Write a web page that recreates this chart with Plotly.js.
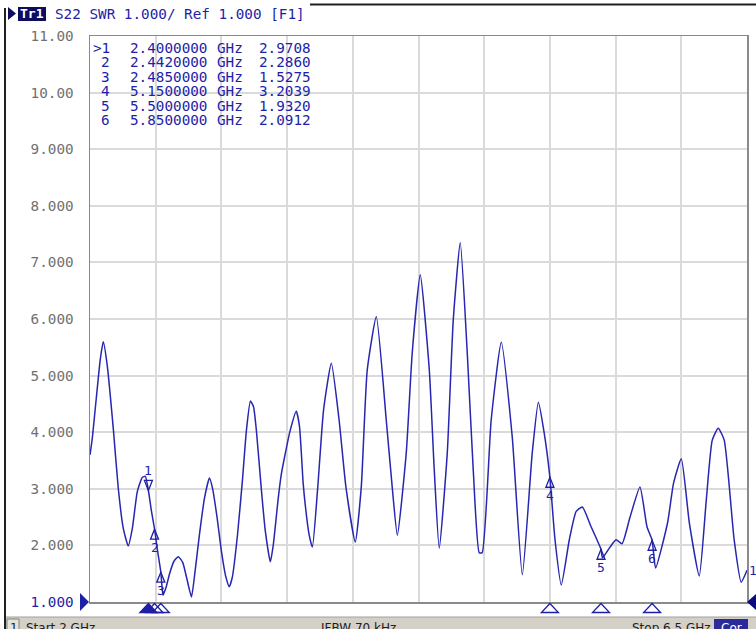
<!DOCTYPE html>
<html>
<head>
<meta charset="utf-8">
<script src="https://cdn.plot.ly/plotly-3.0.1.min.js"></script>
<style>html,body{margin:0;padding:0;background:#fff;overflow:hidden}</style>
</head>
<body>
<div id="chart" style="width:756px;height:629px"></div>
<script>
// ---- data ----
const freqGHz = [2.000,2.016,2.043,2.071,2.091,2.118,2.160,2.194,2.228,2.262,2.290,2.324,2.358,2.379,2.400,2.420,2.442,2.460,2.485,2.500,2.520,2.545,2.575,2.605,2.635,2.660,2.695,2.720,2.750,2.785,2.818,2.840,2.870,2.900,2.930,2.954,2.975,3.010,3.044,3.072,3.099,3.120,3.140,3.174,3.200,3.235,3.255,3.290,3.310,3.331,3.370,3.413,3.435,3.460,3.475,3.500,3.523,3.560,3.600,3.653,3.706,3.753,3.817,3.858,3.899,3.961,4.029,4.070,4.105,4.166,4.207,4.262,4.324,4.358,4.392,4.447,4.488,4.536,4.584,4.625,4.666,4.686,4.748,4.817,4.892,4.961,5.029,5.071,5.110,5.150,5.185,5.228,5.283,5.330,5.372,5.432,5.500,5.510,5.562,5.603,5.644,5.699,5.767,5.815,5.850,5.874,5.956,5.997,6.050,6.105,6.173,6.221,6.262,6.303,6.344,6.412,6.460,6.500];
const swr = [3.60,3.90,4.60,5.30,5.60,5.18,4.05,3.00,2.30,1.99,2.30,2.95,3.20,3.22,2.97,2.62,2.29,1.95,1.53,1.12,1.25,1.50,1.72,1.80,1.70,1.45,1.09,1.55,2.20,2.85,3.19,3.00,2.50,1.90,1.45,1.27,1.44,2.18,3.15,4.05,4.55,4.45,4.02,2.98,2.27,1.71,2.00,2.85,3.25,3.54,4.02,4.37,4.10,3.10,2.70,2.20,1.97,3.03,4.40,5.22,4.22,3.03,2.06,3.03,5.10,6.04,4.22,3.03,2.18,3.63,5.40,6.78,5.10,3.33,1.95,3.63,5.98,7.35,5.40,3.33,1.87,1.87,4.22,5.59,3.92,1.48,3.63,4.53,4.00,3.20,2.10,1.30,2.10,2.60,2.68,2.33,1.93,1.78,1.97,2.10,2.03,2.50,3.03,2.33,2.09,1.60,2.40,3.10,3.53,2.40,1.46,2.80,3.86,4.07,3.86,2.10,1.35,1.56];

const markerNum  = ["1","2","3","4","5","6"];
const markerFreq = [2.400,2.442,2.485,5.150,5.500,5.850];
const markerVal  = [2.9708,2.2860,1.5275,3.2039,1.9320,2.0912];
const markerFreqText = ["2.4000000","2.4420000","2.4850000","5.1500000","5.5000000","5.8500000"];
const markerValText  = ["2.9708","2.2860","1.5275","3.2039","1.9320","2.0912"];

const yTickVals = [1,2,3,4,5,6,7,8,9,10,11];
const yTickText = ['<span style="color:#1e1ea8">1.000</span>',"2.000","3.000","4.000","5.000","6.000","7.000","8.000","9.000","10.00","11.00"];

const startGHz = 2, stopGHz = 6.5;
const headerText = "S22 SWR 1.000/ Ref 1.000 [F1]";

// ---- layout helpers (pixel -> paper) ----
const W = 756, H = 629, L = 90, R = 9, T = 36, B = 27;
const PW = W - L - R, PH = H - T - B;
const px = v => (v - L) / PW;
const py = v => (H - B - v) / PH;
const NAVY = "#1e1ea8";
const MONO = "DejaVu Sans Mono, Liberation Mono, monospace";
const gpx = (stopGHz - startGHz) / PW;   // GHz per pixel
const vpx = 10 / PH;                     // SWR per pixel

const shapes = [];
const annotations = [];

// marker glyphs on the trace
markerFreq.forEach((f, i) => {
  const v = markerVal[i];
  if (i === 0) {
    shapes.push({type:"path", xref:"x", yref:"y",
      path:`M${f},${v} L${f-4*gpx},${v+10*vpx} L${f+4*gpx},${v+10*vpx} Z`,
      line:{color:NAVY,width:1.3}});
    annotations.push({xref:"x", yref:"y", x:f, y:v, yshift:11, yanchor:"bottom", showarrow:false, borderpad:0,
      text:markerNum[i], font:{family:MONO,size:13,color:NAVY}});
  } else {
    shapes.push({type:"path", xref:"x", yref:"y",
      path:`M${f},${v} L${f-4*gpx},${v-10*vpx} L${f+4*gpx},${v-10*vpx} Z`,
      line:{color:NAVY,width:1.3}});
    annotations.push({xref:"x", yref:"y", x:f, y:v, yshift:-10, yanchor:"top", showarrow:false, borderpad:0,
      text:markerNum[i], font:{family:MONO,size:13,color:NAVY}});
  }
  // stimulus triangles below the axis
  shapes.push({type:"path", xref:"x", yref:"paper",
    path:`M${f},${py(603.5)} L${f-8.5*gpx},${py(612.5)} L${f+8.5*gpx},${py(612.5)} Z`,
    line:{color:NAVY,width:1.3}, fillcolor: i === 0 ? NAVY : "rgba(255,255,255,0)"});
});

// marker table
markerNum.forEach((n, i) => {
  const yy = py(47.5 + i * 14.6);
  const font = {family:MONO, size:14.3, color:NAVY};
  const base = {xref:"paper", yref:"paper", y:yy, yanchor:"middle", showarrow:false, borderpad:0, font};
  annotations.push(Object.assign({x:px(111), xanchor:"right", text:(i===0?">":"")+n}, base));
  annotations.push(Object.assign({x:px(129), xanchor:"left", text:markerFreqText[i]}, base));
  annotations.push(Object.assign({x:px(216), xanchor:"left", text:"GHz"}, base));
  annotations.push(Object.assign({x:px(258), xanchor:"left", text:markerValText[i]}, base));
});

// header
shapes.push({type:"path", xref:"paper", yref:"paper",
  path:`M${px(8)},${py(7)} L${px(16)},${py(13.5)} L${px(8)},${py(20)} Z`, fillcolor:"#0c0c60", line:{width:0}});
shapes.push({type:"rect", xref:"paper", yref:"paper", x0:px(18), x1:px(46), y0:py(7), y1:py(21), fillcolor:"#0c0c60", line:{width:0}});
annotations.push({xref:"paper", yref:"paper", x:px(32), y:py(14), xanchor:"center", yanchor:"middle", showarrow:false,
  text:"<b>Tr1</b>", font:{family:MONO,size:13,color:"#ffffff"}});
annotations.push({xref:"paper", yref:"paper", x:px(53), y:py(14), xanchor:"left", yanchor:"middle", showarrow:false,
  text:headerText, font:{family:MONO,size:14.3,color:NAVY}});
// window border lines
shapes.push({type:"line", xref:"paper", yref:"paper", x0:px(310), x1:px(756), y0:py(4.5), y1:py(4.5), line:{color:"#202020",width:2}});
shapes.push({type:"line", xref:"paper", yref:"paper", x0:px(5), x1:px(5), y0:py(8), y1:py(629), line:{color:"#202020",width:2}});

// reference-level triangles
shapes.push({type:"path", xref:"paper", yref:"paper",
  path:`M${px(80)},${py(593)} L${px(89)},${py(602)} L${px(80)},${py(611)} Z`, fillcolor:NAVY, line:{width:0}});
shapes.push({type:"path", xref:"paper", yref:"paper",
  path:`M${px(757)},${py(593)} L${px(747)},${py(602)} L${px(757)},${py(611)} Z`, fillcolor:"#0c0c80", line:{width:0}});

// trace end label
annotations.push({xref:"paper", yref:"y", x:1, y:swr[swr.length-1], xshift:1, xanchor:"left", yanchor:"middle", showarrow:false, borderpad:0,
  text:"1", font:{family:MONO,size:13,color:NAVY}});

// status bar
shapes.push({type:"rect", xref:"paper", yref:"paper", x0:px(6), x1:px(756), y0:py(617), y1:py(630), fillcolor:"#d4d0c8", line:{width:0}});
shapes.push({type:"line", xref:"paper", yref:"paper", x0:px(6), x1:px(756), y0:py(617), y1:py(617), line:{color:"#a0a0a0",width:1}});
shapes.push({type:"rect", xref:"paper", yref:"paper", x0:px(7), x1:px(19), y0:py(619), y1:py(630), fillcolor:"#e6e3dc", line:{color:"#808080",width:1}});
shapes.push({type:"rect", xref:"paper", yref:"paper", x0:px(714), x1:px(748), y0:py(619), y1:py(630), fillcolor:"#2a2a9a", line:{width:0}});
const sbFont = {family:"DejaVu Sans, sans-serif", size:12, color:"#202020"};
const sb = {xref:"paper", yref:"paper", y:py(620), yanchor:"top", showarrow:false, borderpad:0};
annotations.push(Object.assign({x:px(9), xanchor:"left", text:"1", font:sbFont}, sb));
annotations.push(Object.assign({x:px(25), xanchor:"left", text:"Start " + startGHz + " GHz", font:sbFont}, sb));
annotations.push(Object.assign({x:px(320), xanchor:"left", text:"IFBW 70 kHz", font:sbFont}, sb));
annotations.push(Object.assign({x:px(712), xanchor:"right", text:"Stop " + stopGHz + " GHz", font:sbFont}, sb));
annotations.push(Object.assign({x:px(731), xanchor:"center", text:"Cor", font:{family:"DejaVu Sans, sans-serif", size:12, color:"#ffffff"}}, sb));

const traces = [{
  x: freqGHz, y: swr, type: "scatter", mode: "lines",
  line: {color: "#2626b0", width: 1.5, shape: "spline", smoothing: 0.5}, hoverinfo: "skip"
}];

const layout = {
  width: W, height: H,
  margin: {l: L, r: R, t: T, b: B, pad: 0},
  paper_bgcolor: "#ffffff", plot_bgcolor: "#ffffff",
  showlegend: false,
  xaxis: {
    range: [startGHz, stopGHz], tick0: startGHz, dtick: (stopGHz - startGHz) / 10,
    showticklabels: false, ticks: "", showgrid: true, gridcolor: "#dadada", gridwidth: 2,
    zeroline: false, showline: true, linecolor: "#8a8a8a", linewidth: 1.5, mirror: true
  },
  yaxis: {
    range: [1, 11], tickvals: yTickVals, ticktext: yTickText,
    ticks: "", ticklabelstandoff: 12,
    tickfont: {family: MONO, size: 14.3, color: "#707070"},
    showgrid: true, gridcolor: "#dadada", gridwidth: 2,
    zeroline: false, showline: true, linecolor: "#8a8a8a", linewidth: 1.5, mirror: true
  },
  shapes: shapes,
  annotations: annotations
};

Plotly.newPlot("chart", traces, layout, {staticPlot: true, displayModeBar: false});
</script>
</body>
</html>
